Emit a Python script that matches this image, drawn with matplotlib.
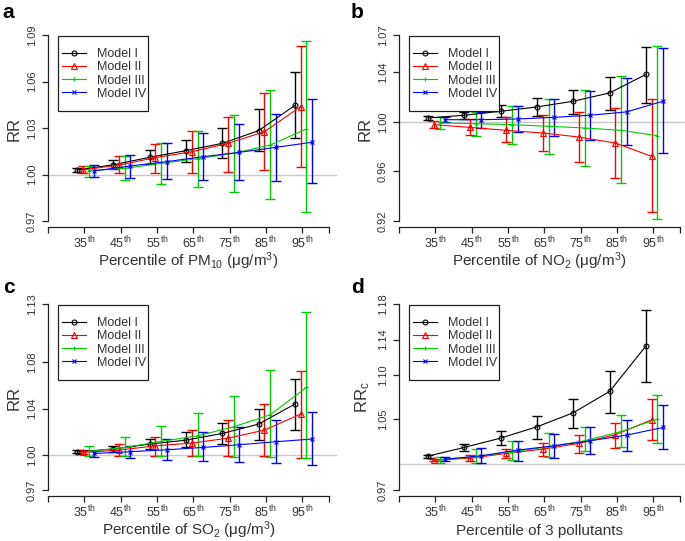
import numpy as np
import matplotlib.pyplot as plt
from matplotlib.patches import Rectangle

plt.rcParams['font.family'] = ['Liberation Sans', 'DejaVu Sans']
plt.rcParams['mathtext.fontset'] = 'custom'
plt.rcParams['mathtext.rm'] = 'Liberation Sans'
plt.rcParams['mathtext.it'] = 'Liberation Sans:italic'
plt.rcParams['mathtext.bf'] = 'Liberation Sans:bold'

percentiles = [35, 45, 55, 65, 75, 85, 95]
models = ['Model I', 'Model II', 'Model III', 'Model IV']
colors = ['black', '#FF0000', '#00CD00', '#0000FF']
markers = ['o', '^', '+', 'x']
offsets = [-2.0, -0.4, 1.2, 2.7]

# a: PM10
pm10_rr = [[1.0029, 1.0063, 1.0111, 1.0154, 1.0201, 1.0283, 1.0446],
           [1.0030, 1.0061, 1.0109, 1.0147, 1.0201, 1.0276, 1.0438],
           [1.0025, 1.0040, 1.0072, 1.0102, 1.0137, 1.0190, 1.0294],
           [1.0023, 1.0055, 1.0083, 1.0115, 1.0143, 1.0175, 1.0208]]
pm10_lo = [[1.0014, 1.0035, 1.0066, 1.0083, 1.0104, 1.0152, 1.0236],
           [1.0008, 1.0008, 1.0008, 1.0012, 1.0018, 1.0031, 1.0051],
           [0.9986, 0.9965, 0.9937, 0.9917, 0.9889, 0.9840, 0.9760],
           [0.9986, 0.9975, 0.9971, 0.9965, 0.9965, 0.9958, 0.9943]]
pm10_hi = [[1.0044, 1.0094, 1.0158, 1.0223, 1.0298, 1.0423, 1.0659],
           [1.0057, 1.0122, 1.0199, 1.0278, 1.0373, 1.0528, 1.0831],
           [1.0057, 1.0122, 1.0201, 1.0283, 1.0384, 1.0545, 1.0861],
           [1.0061, 1.0126, 1.0205, 1.0266, 1.0324, 1.0390, 1.0485]]

# b: NO2
no2_rr = [[1.0031, 1.0053, 1.0085, 1.0120, 1.0166, 1.0233, 1.0382],
          [0.9977, 0.9955, 0.9931, 0.9910, 0.9877, 0.9829, 0.9721],
          [0.9991, 0.9985, 0.9977, 0.9964, 0.9950, 0.9931, 0.9888],
          [1.0017, 1.0017, 1.0023, 1.0036, 1.0053, 1.0080, 1.0166]]
no2_lo = [[1.0017, 1.0026, 1.0039, 1.0050, 1.0066, 1.0098, 1.0152],
          [0.9950, 0.9891, 0.9834, 0.9761, 0.9672, 0.9545, 0.9276],
          [0.9945, 0.9888, 0.9821, 0.9740, 0.9645, 0.9510, 0.9214],
          [0.9996, 0.9950, 0.9918, 0.9888, 0.9856, 0.9815, 0.9748]]
no2_hi = [[1.0044, 1.0077, 1.0133, 1.0190, 1.0260, 1.0363, 1.0603],
          [1.0003, 1.0020, 1.0040, 1.0058, 1.0077, 1.0112, 1.0185],
          [1.0039, 1.0080, 1.0131, 1.0187, 1.0260, 1.0368, 1.0611],
          [1.0039, 1.0077, 1.0125, 1.0185, 1.0245, 1.0355, 1.0597]]

# c: SO2
so2_rr = [[1.0030, 1.0053, 1.0096, 1.0130, 1.0187, 1.0268, 1.0440],
          [1.0024, 1.0044, 1.0081, 1.0104, 1.0147, 1.0216, 1.0354],
          [1.0033, 1.0067, 1.0119, 1.0167, 1.0245, 1.0348, 1.0583],
          [1.0015, 1.0030, 1.0047, 1.0067, 1.0090, 1.0116, 1.0139]]
so2_lo = [[1.0015, 1.0024, 1.0053, 1.0067, 1.0096, 1.0130, 1.0219],
          [1.0009, 0.9990, 0.9990, 0.9990, 0.9995, 0.9995, 0.9975],
          [0.9995, 0.9995, 0.9995, 0.9995, 0.9987, 0.9987, 0.9975],
          [0.9986, 0.9972, 0.9958, 0.9947, 0.9938, 0.9929, 0.9915]]
so2_hi = [[1.0041, 1.0081, 1.0139, 1.0199, 1.0279, 1.0397, 1.0660],
          [1.0044, 1.0096, 1.0153, 1.0216, 1.0302, 1.0440, 1.0727],
          [1.0078, 1.0159, 1.0248, 1.0362, 1.0511, 1.0732, 1.1228],
          [1.0038, 1.0081, 1.0139, 1.0196, 1.0245, 1.0302, 1.0368]]

# d: 3 pollutants combined
comb_rr = [[1.0084, 1.0182, 1.0287, 1.0415, 1.0573, 1.0814, 1.1326],
           [1.0038, 1.0060, 1.0114, 1.0163, 1.0227, 1.0325, 1.0494],
           [1.0041, 1.0079, 1.0133, 1.0189, 1.0257, 1.0362, 1.0502],
           [1.0049, 1.0087, 1.0152, 1.0200, 1.0257, 1.0321, 1.0407]]
comb_lo = [[1.0061, 1.0144, 1.0212, 1.0276, 1.0396, 1.0566, 1.0923],
           [1.0023, 1.0030, 1.0060, 1.0087, 1.0118, 1.0170, 1.0264],
           [1.0011, 1.0011, 1.0038, 1.0076, 1.0136, 1.0182, 1.0227],
           [1.0023, 1.0011, 1.0030, 1.0060, 1.0106, 1.0144, 1.0163]]
comb_hi = [[1.0099, 1.0219, 1.0362, 1.0532, 1.0727, 1.1047, 1.1732],
           [1.0056, 1.0094, 1.0163, 1.0231, 1.0321, 1.0460, 1.0727],
           [1.0076, 1.0163, 1.0257, 1.0340, 1.0415, 1.0547, 1.0773],
           [1.0079, 1.0174, 1.0257, 1.0332, 1.0407, 1.0490, 1.0663]]

yticks_a = [0.97, 1.00, 1.03, 1.06, 1.09]
yticks_b = [0.92, 0.96, 1.00, 1.04, 1.07]
yticks_c = [0.97, 1.00, 1.04, 1.08, 1.13]
yticks_d = [0.97, 1.05, 1.10, 1.14, 1.18]

panels = [
    ('a', pm10_rr, pm10_lo, pm10_hi, yticks_a, 'RR', r'Percentile of PM$_{10}$ (μg/m$^{3}$)'),
    ('b', no2_rr, no2_lo, no2_hi, yticks_b, 'RR', r'Percentile of NO$_{2}$ (μg/m$^{3}$)'),
    ('c', so2_rr, so2_lo, so2_hi, yticks_c, 'RR', r'Percentile of SO$_{2}$ (μg/m$^{3}$)'),
    ('d', comb_rr, comb_lo, comb_hi, yticks_d, r'RR$_{\mathrm{c}}$', 'Percentile of 3 pollutants'),
]

# axes geometry (figure fractions); each axes is ~288.6 x 197 px
lefts = [0.0701, 0.5825, 0.0701, 0.5825]
bottoms = [0.5804, 0.5804, 0.0830, 0.0830]
width, height = 0.4213, 0.3641
ax_w, ax_h = 288.6, 197.0
letter_pos = [(0.004, 0.995), (0.512, 0.995), (0.004, 0.487), (0.512, 0.487)]
xmin, xmax, xend = 25, 104.5, 102.5

fig = plt.figure(figsize=(6.85, 5.41), dpi=100)

for i, (letter, rr, lo, hi, yt, ylab, xlab) in enumerate(panels):
    ax = fig.add_axes([lefts[i], bottoms[i], width, height])
    span = yt[-1] - yt[0]
    ax.set_ylim(yt[0] - 6 / 186 * span, yt[-1] + 5 / 186 * span)
    ax.set_xlim(xmin, xmax)
    ax.axhline(1.0, color='#C8C8C8', lw=1.0, zorder=1)

    for m in range(4):
        x = np.array(percentiles) + offsets[m]
        y = np.array(rr[m])
        err = [y - np.array(lo[m]), np.array(hi[m]) - y]
        ax.errorbar(x, y, yerr=err, fmt='none', ecolor=colors[m],
                    elinewidth=1.0, capsize=3.6, capthick=1.0, zorder=2)
        ms = 4.5 if markers[m] == '^' else 3.5
        ax.plot(x, y, color=colors[m], lw=0.8, marker=markers[m], ms=ms,
                mfc='none', mew=0.8, label=models[m], zorder=3)

    ax.spines['top'].set_visible(False)
    ax.spines['right'].set_visible(False)
    ax.spines['left'].set_bounds(yt[0], yt[-1])
    ax.spines['bottom'].set_bounds(xmin, xend)
    for s in ('left', 'bottom'):
        ax.spines[s].set_linewidth(0.9)
        ax.spines[s].set_color('#222222')

    ax.set_yticks(yt)
    ax.set_yticklabels(['%.2f' % v for v in yt], rotation=90, va='center')
    xt = [xmin] + percentiles + [xend]
    ax.set_xticks(xt)
    ax.set_xticklabels([''] + [f'{p}$^{{\\mathrm{{th}}}}$' for p in percentiles] + [''])
    ax.tick_params(axis='both', length=4, width=0.9, color='#222222',
                   labelcolor='#333333')
    ax.tick_params(axis='y', pad=4, labelsize=8)
    ax.tick_params(axis='x', pad=1.5, labelsize=9)

    ax.set_ylabel(ylab, fontsize=12, color='#333333', labelpad=4)
    ax.set_xlabel(xlab, fontsize=11, color='#333333')
    ax.xaxis.set_label_coords((63.75 - xmin) / (xmax - xmin), -0.2)
    ax.xaxis.label.set_va('baseline')

    # legend box drawn as its own rectangle (R style: more room above the rows)
    box = Rectangle((10 / ax_w, 1 - 81 / ax_h), 90 / ax_w, 75 / ax_h,
                    transform=ax.transAxes, fill=True, facecolor='white',
                    edgecolor='#222222', lw=0.9, zorder=4)
    ax.add_patch(box)
    leg = ax.legend(loc='upper left', bbox_to_anchor=(13.5 / ax_w, 1 - 18 / ax_h),
                    borderaxespad=0, borderpad=0, fontsize=9.0, frameon=False,
                    labelspacing=0.1, handlelength=1.95, handletextpad=0.85,
                    numpoints=1)
    leg.set_zorder(5)
    for t in leg.get_texts():
        t.set_color('#333333')

    fig.text(letter_pos[i][0], letter_pos[i][1], letter, fontsize=15,
             fontweight='bold', va='top', ha='left')

fig.savefig('out.png', dpi=100)
